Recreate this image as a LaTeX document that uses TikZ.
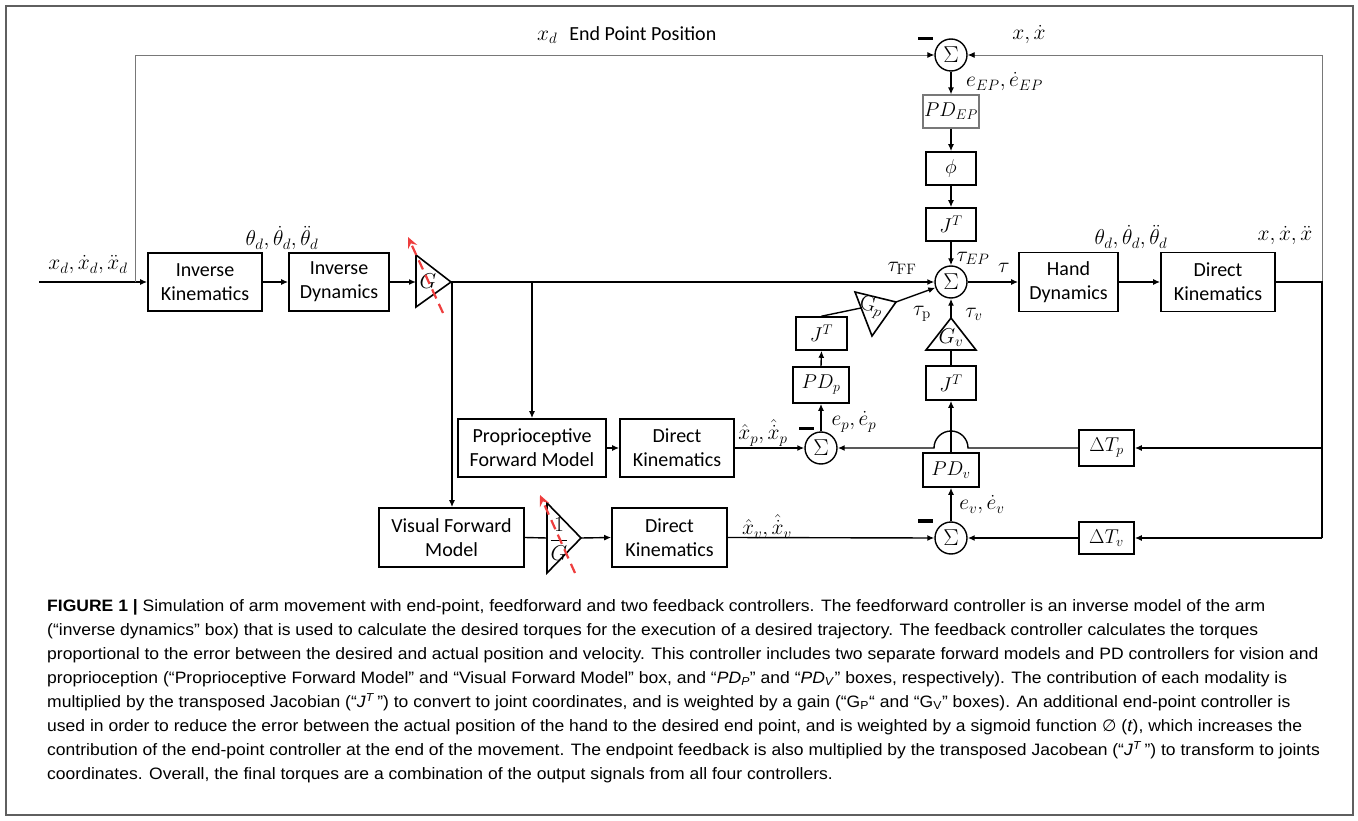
\RequirePackage{fix-cm}
\documentclass[tikz,border=0pt]{standalone}
\usepackage[no-math]{fontspec}
\setmainfont{Carlito}
\newfontfamily\capfont[FakeStretch=1.062]{Liberation Sans}
\newfontfamily\dejavu{DejaVu Sans}
\usetikzlibrary{arrows.meta}
\definecolor{redd}{RGB}{238,62,62}
\definecolor{framec}{RGB}{95,95,95}
\definecolor{thing}{RGB}{120,120,120}
\tikzset{
  boxn/.style={draw=black, line width=1.6pt, inner sep=0pt, align=center,
    font=\fontsize{20}{24}\selectfont},
  conn/.style={line width=1.4pt},
  arr/.style={conn, -{Latex[length=7pt,width=6pt]}},
  thinl/.style={line width=0.9pt, draw=thing},
  thinarr/.style={thinl, -{Latex[length=7pt,width=6pt,fill=black,color=black]}},
  sumn/.style={circle, draw=black, line width=1.4pt, minimum size=32pt, inner sep=0pt,
    font=\fontsize{23}{24}\selectfont},
  lbl/.style={font=\fontsize{21.5}{24}\selectfont, inner sep=0pt},
  minusn/.style={fill=black, minimum width=15pt, minimum height=3.5pt, inner sep=0pt},
  tri/.style={draw=black, line width=1.6pt, fill=white, line join=miter},
  redarr/.style={draw=redd, line width=2.2pt, dash pattern=on 10pt off 6pt,
    -{Stealth[length=11pt,width=10pt,inset=4pt,fill=redd]}},
  capn/.style={anchor=base west, inner sep=0pt, font=\capfont\fontsize{16.5}{18}\selectfont}
}
\begin{document}
\begin{tikzpicture}[x=1pt,y=-1pt]
\useasboundingbox (0,0) rectangle (1358,821);
\draw[framec, line width=1.5pt] (6,6) rectangle (1353,815);

% ---- main row boxes
\node[boxn, minimum width=114pt, minimum height=58pt] (ik) at (205,282) {Inverse\\Kinematics};
\node[boxn, minimum width=100pt, minimum height=58pt] (id) at (339,282) {Inverse\\Dynamics};
\node[boxn, minimum width=99pt, minimum height=59pt] (hd) at (1068.5,282) {Hand\\Dynamics};
\node[boxn, minimum width=114pt, minimum height=59pt] (dkr) at (1218,282) {Direct\\Kinematics};
\node[boxn, minimum width=148pt, minimum height=58pt] (pfm) at (532,448) {Proprioceptive\\Forward Model};
\node[boxn, minimum width=114pt, minimum height=58pt] (dkp) at (677,448) {Direct\\Kinematics};
\node[boxn, minimum width=145pt, minimum height=59pt] (vfm) at (451.5,537.5) {Visual Forward\\Model};
\node[boxn, minimum width=115pt, minimum height=59pt] (dkv) at (669.5,537.5) {Direct\\Kinematics};

% ---- small boxes
\node[boxn, draw=thing, line width=1.1pt, minimum width=56pt, minimum height=33pt] (pdep) at (951,111.5) {$PD_{EP}$};
\node[boxn, minimum width=50pt, minimum height=33pt] (phi) at (951,168.5) {$\phi$};
\node[boxn, minimum width=50pt, minimum height=33pt] (jt) at (951,224.5) {$J^T$};
\node[boxn, minimum width=51pt, minimum height=33pt] (jtp) at (821.5,333.5) {$J^T$};
\node[boxn, minimum width=56pt, minimum height=36pt] (pdp) at (821,385) {$PD_p$};
\node[boxn, minimum width=50pt, minimum height=34pt] (jtv) at (951,383) {$J^T$};
\node[boxn, minimum width=56pt, minimum height=34pt] (pdv) at (951,470) {$PD_v$};
\node[boxn, minimum width=55pt, minimum height=36pt] (dtp) at (1106.5,448) {$\Delta T_p$};
\node[boxn, minimum width=55pt, minimum height=32pt] (dtv) at (1106.5,538) {$\Delta T_v$};

% ---- summing junctions
\node[sumn] (st) at (951,55) {$\Sigma$};
\node[sumn] (sm) at (951,282) {$\Sigma$};
\node[sumn] (sp) at (821,448) {$\Sigma$};
\node[sumn] (sv) at (951,538) {$\Sigma$};

% ---- gain triangles
\draw[tri] (416,255) -- (451,282) -- (416,307) -- cycle;
\node[lbl] (g) at (428,281) {$G$};
\coordinate (gin) at (416,282); \coordinate (gout) at (451,282);
\draw[tri] (855,292) -- (896,302) -- (872,336) -- cycle;
\node[lbl, rotate=-15] (gp) at (871,307) {$\mathrm{G}_p$};
\coordinate (gpin) at (861,308); \coordinate (gpout) at (896,302);
\draw[tri] (951,318) -- (976,350) -- (926,350) -- cycle;
\node[lbl] (gv) at (951,338) {$G_v$};
\coordinate (gvin) at (951,350); \coordinate (gvout) at (951,318);
\draw[tri] (547,503) -- (581,538) -- (547,573) -- cycle;
\node[lbl] (ig) at (559,539) {$\displaystyle\frac{1}{G}$};
\coordinate (igin) at (547,538); \coordinate (igout) at (581,538);

% ---- coordinates
\coordinate (in) at (39,282);
\coordinate (tl) at (135,282);
\coordinate (tlt) at (135,55);
\coordinate (br1) at (452,282);
\coordinate (br2) at (532,282);
\coordinate (rr) at (1322,282);
\coordinate (rrt) at (1322,55);
\coordinate (rp) at (1322,448);
\coordinate (rv) at (1322,538);
\coordinate (hopr) at (968,448);

% ---- connectors
\draw[arr] (in) -- (ik.west);
\draw[thinl] (tl) -- (tlt);
\draw[thinarr] (tlt) -- (st.west);
\draw[thinl] (rr) -- (rrt);
\draw[thinarr] (rrt) -- (st.east);
\draw[arr] (st.south) -- (pdep.north);
\draw[arr] (pdep.south) -- (phi.north);
\draw[arr] (phi.south) -- (jt.north);
\draw[arr] (jt.south) -- (sm.north);
\draw[arr] (ik.east) -- (id.west);
\draw[arr] (id.east) -- (gin);
\draw[arr] (gout) -- (sm.west);
\draw[arr] (br1) -- (vfm.north -| br1);
\draw[arr] (br2) -- (pfm.north);
\draw[arr] (pfm.east) -- (dkp.west);
\draw[arr] (dkp.east) -- (sp.west);
\draw[arr] (sp.north) -- (pdp.south);
\draw[arr] (pdp.north) -- (jtp.south);
\draw[conn] (jtp.north) -- (gpin);
\draw[arr] (gpout) -- (sm);
\draw[conn] (vfm.east) -- (igin);
\draw[arr] (igout) -- (dkv.west);
\draw[arr] (dkv.east) -- (sv.west);
\draw[arr] (sv.north) -- (pdv.south);
\draw[arr] (pdv.north) -- (jtv.south);
\draw[conn] (jtv.north) -- (gvin);
\draw[arr] (gvout) -- (sm.south);
\draw[arr] (sm.east) -- (hd.west);
\draw[arr] (hd.east) -- (dkr.west);
\draw[conn] (dkr.east) -- (rr) -- (rv);
\draw[arr] (rp) -- (dtp.east);
\draw[arr] (rv) -- (dtv.east);
\draw[arr] (dtp.west) -- (hopr) arc[start angle=0, end angle=180, radius=17pt] -- (sp.east);
\draw[arr] (dtv.west) -- (sv.east);

% ---- red dashed arrows
\coordinate (ra1) at (443,313); \coordinate (rb1) at (408,237);
\draw[redarr] (ra1) -- (rb1);
\coordinate (ra2) at (575,573); \coordinate (rb2) at (540,495);
\draw[redarr] (ra2) -- (rb2);

% ---- minus signs
\node[minusn] (m1) at (925,38.5) {};
\node[minusn] (m2) at (806.5,428.5) {};
\node[minusn] (m3) at (925.5,521) {};

% ---- labels
\node[lbl] (lxd) at (88,265) {$x_d, \dot x_d, \ddot x_d$};
\node[lbl] (lth1) at (282,238) {$\theta_d, \dot\theta_d, \ddot\theta_d$};
\node[lbl] (lth2) at (1131,237) {$\theta_d, \dot\theta_d, \ddot\theta_d$};
\node[lbl] (lx3) at (1285,236) {$x, \dot x, \ddot x$};
\node[lbl] (lx2) at (1029,35) {$x, \dot x$};
\node[lbl, anchor=west] (lep) at (537,35) {$x_d$\hspace{12pt}\fontsize{20}{24}\selectfont End Point Position};
\node[lbl, anchor=west] (leep) at (966,82) {$e_{EP}, \dot e_{EP}$};
\node[lbl] (ltep) at (973,258) {$\tau_{EP}$};
\node[lbl] (ltff) at (902,268) {$\tau_{\mathrm{FF}}$};
\node[lbl] (ltau) at (1004,268) {$\tau$};
\node[lbl] (ltp) at (922,314) {$\tau_{\mathrm{p}}$};
\node[lbl] (ltv) at (974,314) {$\tau_v$};
\node[lbl] (lxp) at (763,433) {$\hat x_p, \hat{\dot x}_p$};
\node[lbl] (lepp) at (854,422) {$e_p, \dot e_p$};
\node[lbl] (lxv) at (767,527) {$\hat x_v, \hat{\dot x}_v$};
\node[lbl] (lev) at (982,505) {$e_v, \dot e_v$};

% ---- caption
\node[capn] (c1) at (47,611) {\textbf{FIGURE 1 |} Simulation of arm movement with end-point, feedforward and two feedback controllers. The feedforward controller is an inverse model of the arm};
\node[capn] (c2) at (47,635) {(“inverse dynamics” box) that is used to calculate the desired torques for the execution of a desired trajectory. The feedback controller calculates the torques};
\node[capn] (c3) at (47,659) {proportional to the error between the desired and actual position and velocity. This controller includes two separate forward models and PD controllers for vision and};
\node[capn] (c4) at (47,683) {proprioception (“Proprioceptive Forward Model” and “Visual Forward Model” box, and “\textit{PD}\textsubscript{\textit{P}}” and “\textit{PD}\textsubscript{\textit{V}}” boxes, respectively). The contribution of each modality is};
\node[capn] (c5) at (47,707) {multiplied by the transposed Jacobian (“\textit{J}\textsuperscript{\textit{T}}\,”) to convert to joint coordinates, and is weighted by a gain (“G\textsubscript{P}“ and “G\textsubscript{V}” boxes). An additional end-point controller is};
\node[capn] (c6) at (47,731) {used in order to reduce the error between the actual position of the hand to the desired end point, and is weighted by a sigmoid function {\dejavu\itshape ∅} (\textit{t}), which increases the};
\node[capn] (c7) at (47,755) {contribution of the end-point controller at the end of the movement. The endpoint feedback is also multiplied by the transposed Jacobean (“\textit{J}\textsuperscript{\textit{T}}\,”) to transform to joints};
\node[capn] (c8) at (47,779) {coordinates. Overall, the final torques are a combination of the output signals from all four controllers.};
\end{tikzpicture}
\end{document}
